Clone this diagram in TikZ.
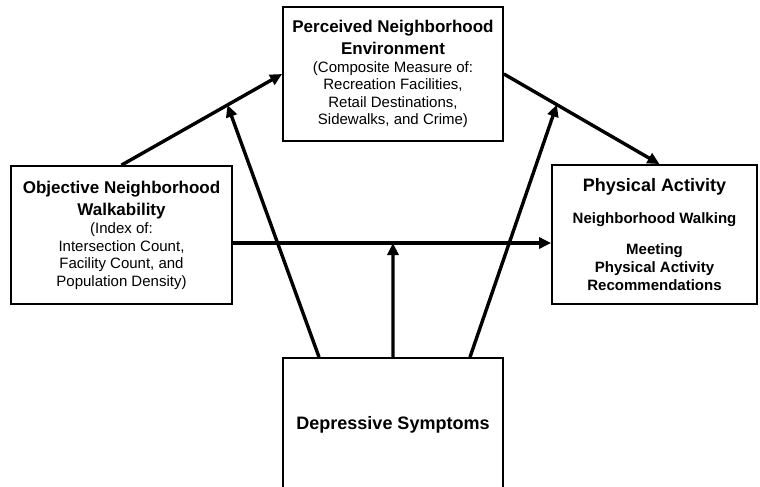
\documentclass[tikz,border=0pt]{standalone}
\usepackage{fontspec}
\setmainfont{Liberation Sans}
\usetikzlibrary{arrows.meta}
\newcommand\bigttl[1]{{\fontsize{17}{20}\selectfont\bfseries #1}}
\newcommand\hugettl[1]{{\fontsize{18}{21}\selectfont\bfseries #1}}
\newcommand\subbold[1]{{\fontsize{15}{18}\selectfont\bfseries #1}}
\tikzset{
  boxnode/.style={draw, line width=1.8pt, inner sep=0pt, align=center,
    font=\fontsize{15}{17.5}\selectfont},
  arr/.style={line width=3.4pt, -{Triangle[length=12pt,width=11pt]}}
}
\begin{document}
\begin{tikzpicture}[x=1pt,y=-1pt]
\useasboundingbox (0,0) rectangle (760,487);
\node[boxnode, minimum width=220pt, minimum height=134pt] (perc) at (393,74)
  {\bigttl{Perceived Neighborhood}\\[4.5pt]
   \bigttl{Environment}\\[0.5pt]
   (Composite Measure of:\\
   Recreation Facilities,\\
   Retail Destinations,\\
   Sidewalks, and Crime)};
\node[boxnode, minimum width=221pt, minimum height=138pt] (obj) at (121.5,235)
  {\bigttl{Objective Neighborhood}\\[4.5pt]
   \bigttl{Walkability}\\[1pt]
   (Index of:\\
   Intersection Count,\\
   Facility Count, and\\
   Population Density)};
\node[boxnode, minimum width=205pt, minimum height=139pt] (phys) at (654.5,234.5)
  {\hugettl{Physical Activity}\\[15pt]
   \subbold{Neighborhood Walking}\\[13pt]
   \subbold{Meeting}\\[0.5pt]
   \subbold{Physical Activity}\\[1pt]
   \subbold{Recommendations}};
\node[boxnode, minimum width=220pt, minimum height=134pt] (dep) at (393,425)
  {\hugettl{Depressive Symptoms}};
\draw[arr] (obj.north) -- coordinate[pos=0.66] (m1) (perc.west);
\draw[arr] (perc.east) -- coordinate[pos=0.34] (m2) ([xshift=5pt]phys.north);
\draw[arr] ([yshift=-8pt]obj.east) -- coordinate[pos=0.503] (m3) ([yshift=-8.5pt]phys.west);
\draw[arr] ([xshift=-74pt]dep.north) -- (m1);
\draw[arr] (dep.north) -- (m3);
\draw[arr] ([xshift=77pt]dep.north) -- (m2);
\end{tikzpicture}
\end{document}
